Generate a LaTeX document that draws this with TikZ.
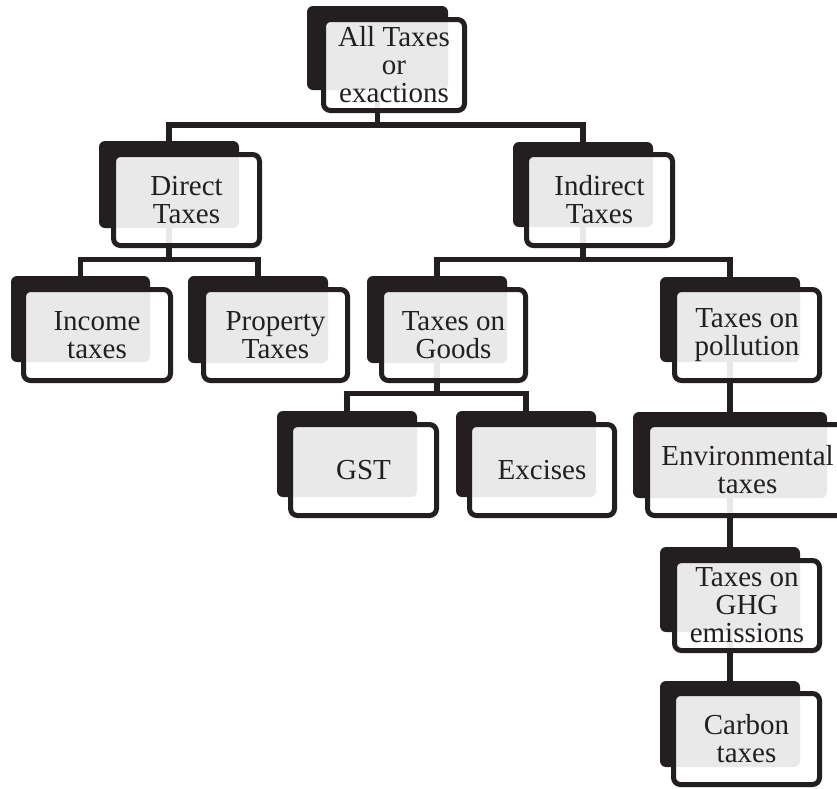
\documentclass[tikz,border=0pt]{standalone}
\usepackage{fontspec}
\setmainfont{Liberation Serif}
\usetikzlibrary{fit}
\definecolor{ink}{RGB}{35,31,32}
\pgfdeclarelayer{front}
\pgfsetlayers{main,front}
\tikzset{
  backbox/.style={fill=ink, draw=none, rounded corners=6pt, inner sep=0pt, outer sep=0pt},
  frontbox/.style={draw=ink, line width=5pt, fill=white, fill opacity=0.9, draw opacity=1, rounded corners=7pt, inner sep=0pt, outer sep=0pt},
  lbl/.style={font=\fontsize{29}{28}\selectfont, align=center, inner sep=0pt, text=ink, text opacity=1},
  conn/.style={draw=ink, line width=5.5pt}
}
\newcommand\tb[4]{%
  \node[backbox, fit={#2}] (#1) {};
  \begin{pgfonlayer}{front}
  \node[frontbox, fit={#3}] (#1f) {};
  \node[lbl] (#1t) at (#1f.center) {#4};
  \end{pgfonlayer}
}
\begin{document}
\begin{tikzpicture}[x=1pt,y=-1pt]
\useasboundingbox (0,0) rectangle (837,788);
\clip (0,0) rectangle (837,788);
\fill[white] (0,0) rectangle (837,788);
\tb{all}{(307,6) (448,90)}{(323.5,19.5) (464.5,110.5)}{All Taxes\\or\\exactions}
\tb{dir}{(99,141) (239,228)}{(113.5,154.5) (259.5,245.5)}{Direct\\Taxes}
\tb{ind}{(513,142) (653,227)}{(526.5,154.5) (672.5,245.5)}{Indirect\\Taxes}
\tb{inc}{(11,276) (150,362)}{(23.5,289.5) (170.5,380.5)}{Income\\taxes}
\tb{pro}{(188,276) (328,363)}{(203.5,289.5) (347.5,380.5)}{Property\\Taxes}
\tb{goo}{(367,276) (507,363)}{(381.5,289.5) (525.5,380.5)}{Taxes on\\Goods}
\tb{pol}{(660,277) (800,362)}{(674.5,289.5) (819.5,380.5)}{Taxes on\\pollution}
\tb{gst}{(277,411) (417,497)}{(290.5,424.5) (436.5,515.5)}{GST}
\tb{exc}{(456,411) (596,497)}{(469.5,424.5) (614.5,515.5)}{Excises}
\tb{env}{(633,412) (827,498)}{(647.5,424.5) (847.5,515.5)}{Environmental\\taxes}
\tb{ghg}{(660,547) (800,632)}{(674.5,560.5) (819.5,650.5)}{Taxes on\\GHG\\emissions}
\tb{car}{(660,681) (800,767)}{(673.5,693.5) (819.5,784.5)}{Carbon\\taxes}
\coordinate (bus1) at (0,125);
\coordinate (bus2) at (0,259.5);
\coordinate (bus3) at (0,393.5);
\draw[conn] (all.south) -- (all.south |- bus1);
\draw[conn] (dir.north) |- (all.south |- bus1) -| (ind.north);
\draw[conn] (dir.south) -- (dir.south |- bus2);
\draw[conn] (inc.north) |- (dir.south |- bus2) -| (pro.north);
\draw[conn] (ind.south) -- (ind.south |- bus2);
\draw[conn] (goo.north) |- (ind.south |- bus2) -| (pol.north);
\draw[conn] (goo.south) -- (goo.south |- bus3);
\draw[conn] (gst.north) |- (goo.south |- bus3) -| (exc.north);
\draw[conn] (pol.south) -- (env.north);
\draw[conn] (env.south) -- (ghg.north);
\draw[conn] (ghg.south) -- (car.north);
\end{tikzpicture}
\end{document}
